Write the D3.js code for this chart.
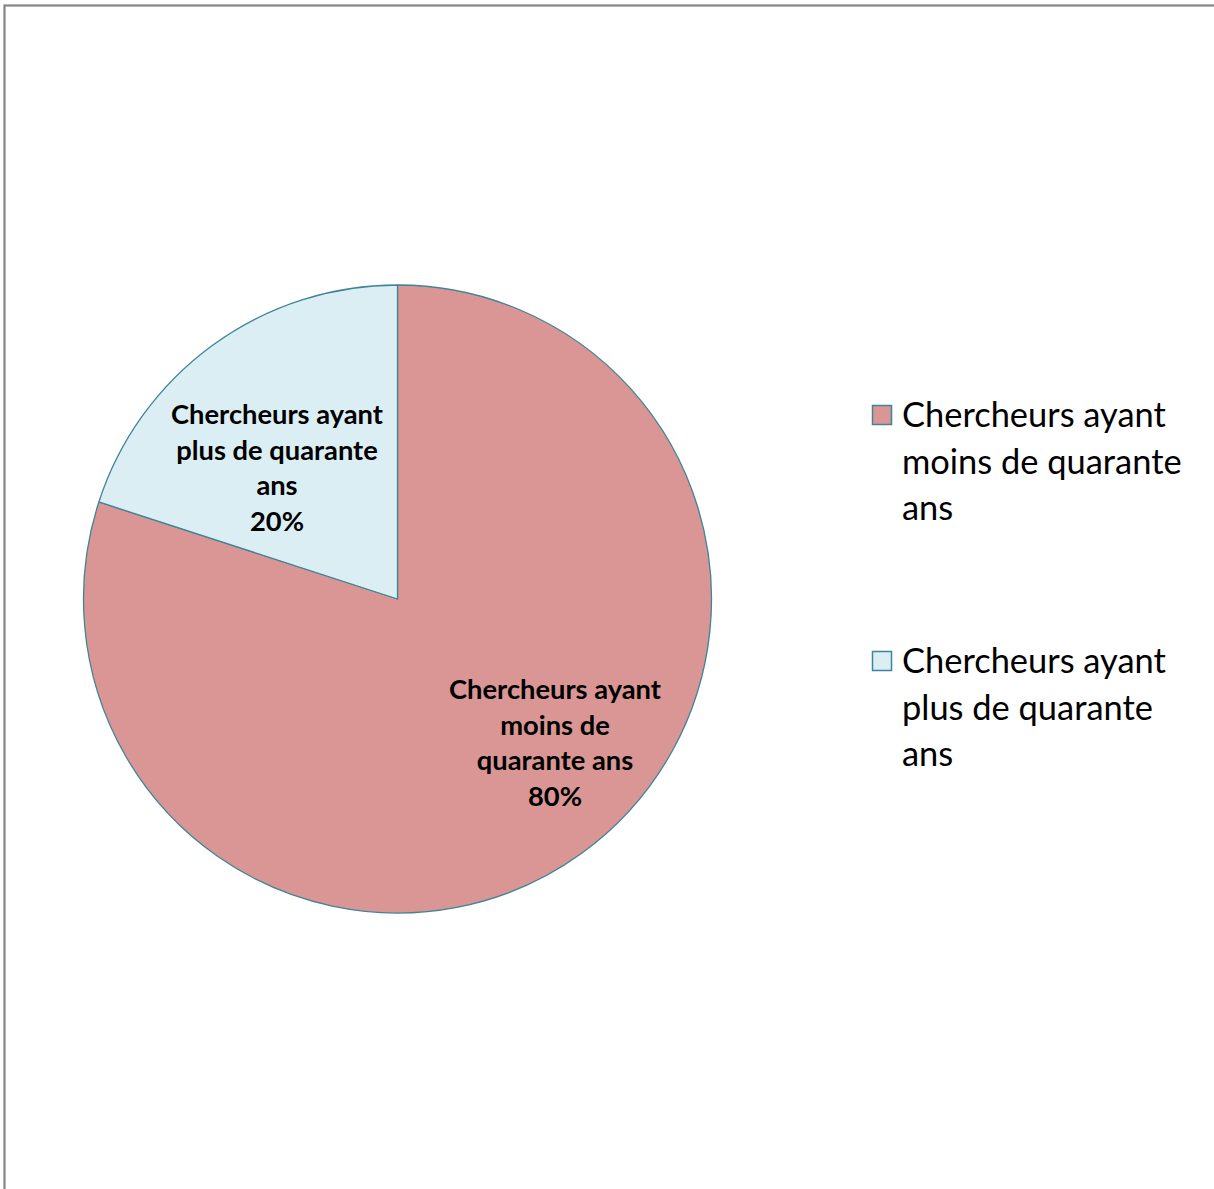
<!DOCTYPE html>
<html>
<head>
<meta charset="utf-8">
<script src="https://cdn.jsdelivr.net/npm/d3@7"></script>
<style>
  html, body { margin: 0; padding: 0; background: #fff; }
  svg { display: block; }
</style>
</head>
<body>
<svg id="chart" width="1214" height="1189"></svg>
<script>
// ---- data ----
const categories = ["Chercheurs ayant moins de quarante ans", "Chercheurs ayant plus de quarante ans"];
const values = [80, 20];
const labelLines = [
  ["Chercheurs ayant", "moins de", "quarante ans"],
  ["Chercheurs ayant", "plus de quarante", "ans"]
];
const legendLines = [
  ["Chercheurs ayant", "moins de quarante", "ans"],
  ["Chercheurs ayant", "plus de quarante", "ans"]
];
const colors = ["#D99694", "#DBEEF4"];

// ---- layout ----
const W = 1214, H = 1189;
const cx = 397.5, cy = 599, R = 314;
const strokeCol = "#3F8497";
const svg = d3.select("#chart");

// frame (only left & top visible, clipped by page)
svg.append("rect")
  .attr("x", 4.5).attr("y", 5.5)
  .attr("width", 1400).attr("height", 1400)
  .attr("fill", "none").attr("stroke", "#858585").attr("stroke-width", 2.2);

const pie = d3.pie().sort(null).value(d => d)
  .startAngle(0).endAngle(2 * Math.PI);
const arcs = pie(values);
const arc = d3.arc().innerRadius(0).outerRadius(R);
const color = d3.scaleOrdinal().domain(d3.range(values.length)).range(colors);

const g = svg.append("g").attr("transform", `translate(${cx},${cy})`);
g.selectAll("path.slice").data(arcs).enter().append("path")
  .attr("class", "slice")
  .attr("d", arc)
  .attr("fill", (d, i) => color(i))
  .attr("stroke", strokeCol)
  .attr("stroke-width", 1.3)
  .attr("stroke-linejoin", "round");

// fit helper: compute font size to give first line target width
function fitSize(text, weight, family, targetWidth) {
  const t = svg.append("text").attr("font-family", family)
    .attr("font-weight", weight).attr("font-size", 100).text(text);
  const w = t.node().getComputedTextLength();
  t.remove();
  return 100 * targetWidth / w;
}
const FAM = "Lato, 'Open Sans', sans-serif";
const labelSize = fitSize("Chercheurs ayant", "bold", FAM, 212);
const legendSize = fitSize("Chercheurs ayant", "normal", FAM, 264);

// data labels (center x offset, first baseline offset relative to pie centre)
const labelPos = [
  { dx: 157.5, dy: 100 },
  { dx: -120.5, dy: -175 }
];
const lineStep = 35.7;
arcs.forEach((a, i) => {
  const total = d3.sum(values);
  const lines = labelLines[i].concat([Math.round(a.data / total * 100) + "%"]);
  const t = g.append("text")
    .attr("font-family", FAM)
    .attr("font-weight", "bold")
    .attr("font-size", labelSize)
    .attr("fill", "#000")
    .attr("text-anchor", "middle");
  lines.forEach((ln, k) => {
    t.append("tspan")
      .attr("x", labelPos[i].dx)
      .attr("y", labelPos[i].dy + k * lineStep)
      .text(ln);
  });
});

// legend
const legX = 872, legY0 = 405, legGap = 246, legLine = 46.5;
categories.forEach((c, i) => {
  const y0 = legY0 + i * legGap;
  svg.append("rect")
    .attr("x", legX + 0.5).attr("y", y0 + 0.5)
    .attr("width", 19).attr("height", 19)
    .attr("fill", colors[i])
    .attr("stroke", strokeCol).attr("stroke-width", 1.5);
  const t = svg.append("text")
    .attr("font-family", FAM)
    .attr("font-size", legendSize)
    .attr("fill", "#000");
  legendLines[i].forEach((ln, k) => {
    t.append("tspan")
      .attr("x", 902)
      .attr("y", y0 + 22 + k * legLine)
      .text(ln);
  });
});
</script>
</body>
</html>
